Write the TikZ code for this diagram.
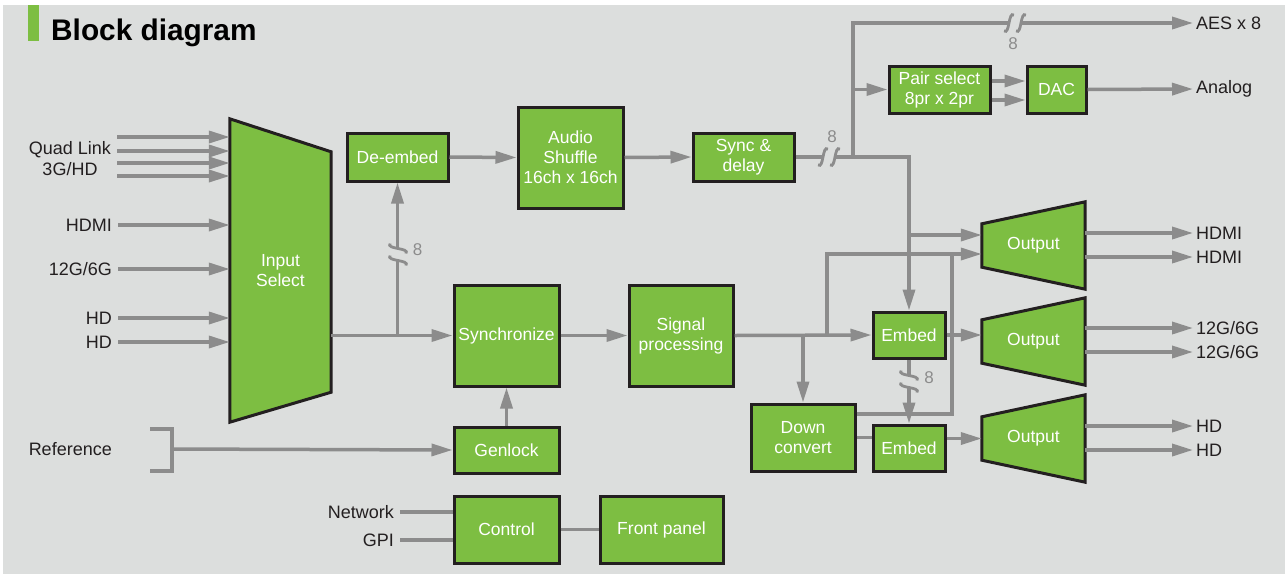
\documentclass[tikz,border=0pt]{standalone}
\usepackage{fontspec}
\setmainfont{Liberation Sans}
\usetikzlibrary{arrows.meta, positioning, calc}
\definecolor{panelgray}{RGB}{220,222,221}
\definecolor{blockgreen}{RGB}{125,190,66}
\definecolor{wiregray}{RGB}{140,140,140}
\definecolor{edgedark}{RGB}{35,31,32}

% break mark on a bus line: #1 = position, #2 = rotation
\newcommand{\brkmark}[2]{%
  \begin{scope}[shift={#1}, rotate=#2]
    \fill[panelgray] (-6,-2.5) rectangle (6,2.5);
    \draw[wiregray, line width=2.8pt] (-11,8) .. controls (-5,12) and (-7,-12) .. (-1,-8);
    \draw[wiregray, line width=2.8pt] (1,8) .. controls (7,12) and (5,-12) .. (11,-8);
  \end{scope}}

\begin{document}
\begin{tikzpicture}[
    x=1pt, y=-1pt,
    box/.style={rectangle, draw=edgedark, line width=3pt, fill=blockgreen, text=white, inner sep=0pt, align=center, font=\fontsize{17.5}{20}\selectfont},
    trapbox/.style={rectangle, inner sep=0pt, minimum width=103pt, minimum height=87pt},
    trapedge/.style={draw=edgedark, line width=3pt, fill=blockgreen, line join=miter},
    boxtext/.style={text=white, align=center, font=\fontsize{17.5}{20}\selectfont},
    iolabel/.style={text=edgedark, inner sep=3pt, align=center, font=\fontsize{18}{21}\selectfont},
    sig/.style={draw=wiregray, line width=3.5pt, -{Triangle[length=21pt,width=12pt]}},
    wire/.style={draw=wiregray, line width=3.5pt, line join=miter},
    brknum/.style={text=wiregray, inner sep=0pt, font=\fontsize{17}{20}\selectfont}
]
\useasboundingbox (0,0) rectangle (1285,574);
\fill[white] (0,0) rectangle (1285,574);
\fill[panelgray] (3,5) rectangle (1285,574);

% Title
\fill[blockgreen] (28,5) rectangle (39,41);
\node[anchor=base west, inner sep=0pt, text=black, font=\fontsize{29.8}{32}\selectfont\bfseries] (title) at (51,40) {Block diagram};

% Input select
\node[trapbox, minimum width=101pt, minimum height=303pt] (insel) at (280.5,270.5) {};
\draw[trapedge] (insel.north west) -- ($(insel.north east)+(0,33)$) -- ($(insel.south east)+(0,-30)$) -- (insel.south west) -- cycle;
\node[boxtext] at (insel) {Input\\Select};

% Audio path
\node[box, minimum width=101pt, minimum height=48pt] (deembed) at (397.5,157) {De-embed};
\node[box, minimum width=105pt, minimum height=101pt] (shuffle) at (570.5,157.5) {Audio\\Shuffle\\16ch x 16ch};
\node[box, minimum width=101pt, minimum height=48pt] (syncdel) at (743.5,157) {Sync \&\\delay};
\node[box, minimum width=101pt, minimum height=47pt] (pairsel) at (939.5,89.5) {Pair select\\8pr x 2pr};
\node[box, minimum width=59pt, minimum height=47pt] (dac) at (1056.5,89.5) {DAC};

% Video path
\node[box, minimum width=105pt, minimum height=101pt] (sync) at (506.5,335.5) {Synchronize};
\node[box, minimum width=104pt, minimum height=101pt] (sigproc) at (681,335.5) {Signal\\processing};
\node[box, minimum width=105pt, minimum height=46pt] (genlock) at (506.5,450) {Genlock};
\node[box, minimum width=105pt, minimum height=67pt] (control) at (506.5,529.5) {Control};
\node[box, minimum width=123pt, minimum height=67pt] (fpanel) at (661.5,529.5) {Front panel};
\node[box, minimum width=72pt, minimum height=46pt] (embedA) at (909,335) {Embed};
\node[box, minimum width=72pt, minimum height=46pt] (embedB) at (909,448) {Embed};
\node[box, minimum width=104pt, minimum height=67pt] (downconv) at (803,437.5) {Down\\convert};

% Outputs
\node[trapbox] (outA) at (1033.5,245.5) {};
\node[trapbox] (outB) at (1033.5,341.5) {};
\node[trapbox] (outC) at (1033.5,438.5) {};
\foreach \o in {outA,outB,outC} {
  \draw[trapedge] ($(\o.north west)+(0,22)$) -- (\o.north east) -- (\o.south east) -- ($(\o.south west)+(0,-22)$) -- cycle;
  \node[boxtext] at (\o) {Output};
}

% Input labels
\node[iolabel] (quad) at (70,159) {Quad Link\\3G/HD};
\node[iolabel, anchor=east] (hdmiIn) at (115,225) {HDMI};
\node[iolabel, anchor=east] (sdiIn) at (115,269) {12G/6G};
\node[iolabel, anchor=east] (hdInA) at (115,318) {HD};
\node[iolabel, anchor=east] (hdInB) at (115,342) {HD};
\node[iolabel, anchor=east] (refIn) at (115,449) {Reference};
\node[iolabel, anchor=east] (netIn) at (397,512) {Network};
\node[iolabel, anchor=east] (gpiIn) at (397,540) {GPI};

% Output labels
\node[iolabel, anchor=west] (aesOut) at (1193,23) {AES x 8};
\node[iolabel, anchor=west] (anaOut) at (1193,89) {Analog};
\node[iolabel, anchor=west] (hdmiOutA) at (1193,233) {HDMI};
\node[iolabel, anchor=west] (hdmiOutB) at (1193,257) {HDMI};
\node[iolabel, anchor=west] (sdiOutA) at (1193,328) {12G/6G};
\node[iolabel, anchor=west] (sdiOutB) at (1193,352) {12G/6G};
\node[iolabel, anchor=west] (hdOutA) at (1193,426) {HD};
\node[iolabel, anchor=west] (hdOutB) at (1193,450) {HD};

% Inputs
\foreach \y in {137,151,163,176}
  \draw[sig, shorten <=3pt] (quad.east |- 0,\y) -- (insel.west |- 0,\y);
\foreach \n in {hdmiIn,sdiIn,hdInA,hdInB}
  \draw[sig, shorten <=3pt] (\n.east) -- (insel.west |- \n.east);

% Video connections
\coordinate (tapA) at (deembed.south |- sync.west);
\draw[sig] (insel.east |- sync.west) -- (sync.west);
\draw[sig] (tapA) -- (deembed.south);
\draw[sig] (sync.east) -- (sigproc.west);
\draw[sig] (genlock.north) -- (sync.south);
\draw[sig] (sigproc.east) -- (embedA.west);
\coordinate (tapC) at (827,335.5);
\coordinate (joinD) at (952,254);
\draw[sig] (tapC) |- (outA.west |- joinD);
\draw[sig] (downconv.north |- sigproc.east) -- (downconv.north);
\draw[wire] (downconv.east |- 0,414) -| (joinD);
\draw[wire] (downconv.east) -- (embedB.west |- downconv.east);
\draw[sig] (embedA.east) -- (outB.west |- embedA.east);
\draw[sig] (embedB.east |- outC.west) -- (outC.west);
\draw[sig] (embedA.south) -- (embedB.north);

% Audio connections
\coordinate (tapB) at (853,157);
\draw[sig] (deembed.east) -- (shuffle.west);
\draw[sig] (shuffle.east) -- (syncdel.west);
\draw[sig] (syncdel.east) -| (embedA.north);
\draw[sig] (embedA.north |- 0,235) -- (outA.west |- 0,235);
\draw[sig] (tapB) |- (aesOut.west);
\draw[sig] (tapB |- pairsel.west) -- (pairsel.west);
\draw[sig] (pairsel.east |- 0,81) -- (dac.west |- 0,81);
\draw[sig] (pairsel.east |- 0,100) -- (dac.west |- 0,100);
\draw[sig] (dac.east) -- (anaOut.west);

% Outputs to labels
\draw[sig] (outA.east |- hdmiOutA.west) -- (hdmiOutA.west);
\draw[sig] (outA.east |- hdmiOutB.west) -- (hdmiOutB.west);
\draw[sig] (outB.east |- sdiOutA.west) -- (sdiOutA.west);
\draw[sig] (outB.east |- sdiOutB.west) -- (sdiOutB.west);
\draw[sig] (outC.east |- hdOutA.west) -- (hdOutA.west);
\draw[sig] (outC.east |- hdOutB.west) -- (hdOutB.west);

% Reference and control
\draw[wire] (150,429) -- (172,429) -- (172,471) -- (150,471);
\coordinate (refbr) at (172,449);
\draw[sig] (refbr) -- (genlock.west);
\draw[wire, shorten <=3pt] (netIn.east) -- (control.west |- netIn.east);
\draw[wire, shorten <=3pt] (gpiIn.east) -- (control.west |- gpiIn.east);
\draw[wire] (control.east) -- (fpanel.west);

% Bus breaks
\brkmark{(398,254.5)}{90}
\node[brknum] at (417.5,249.5) {8};
\brkmark{(829,157)}{0}
\node[brknum] at (832,136.5) {8};
\brkmark{(1015,23)}{0}
\node[brknum] at (1013,43.5) {8};
\brkmark{(909,381.5)}{90}
\node[brknum] at (929,378) {8};

\end{tikzpicture}
\end{document}
